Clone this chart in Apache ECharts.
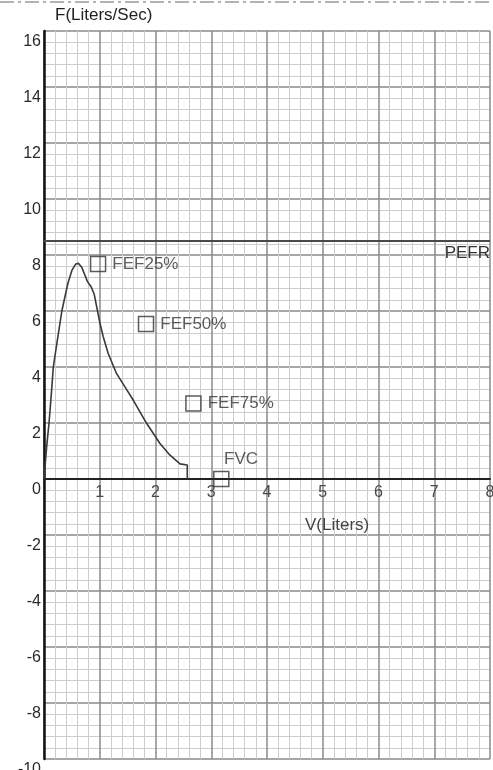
<!DOCTYPE html>
<html>
<head>
<meta charset="utf-8">
<script src="https://cdn.jsdelivr.net/npm/echarts@6/dist/echarts.min.js"></script>
<style>
  html, body { margin: 0; padding: 0; background: #fff; }
  #chart { width: 493px; height: 770px; }
</style>
</head>
<body>
<div id="chart"></div>
<script>
// Expiratory flow-volume curve (volume in litres, flow in litres per second)
const curveVolume = [0, 0.05, 0.09, 0.13, 0.167, 0.24, 0.32, 0.43, 0.5, 0.57, 0.62, 0.68, 0.74, 0.78, 0.85, 0.9, 0.96, 1.0, 1.06, 1.15, 1.3, 1.48, 1.6, 1.84, 2.08, 2.26, 2.44, 2.57, 2.57];
const curveFlow   = [0, 1.2, 2.0, 3.0, 4.0, 4.96, 6.0, 7.0, 7.45, 7.68, 7.7, 7.55, 7.25, 7.05, 6.85, 6.6, 6.0, 5.6, 5.1, 4.49, 3.77, 3.2, 2.82, 1.99, 1.27, 0.85, 0.54, 0.5, 0];

// Reference markers
const markerNames  = ['FEF25%', 'FEF50%', 'FEF75%', 'FVC'];
const markerVolume = [0.97, 1.83, 2.68, 3.18];
const markerFlow   = [7.68, 5.54, 2.70, 0];

// Peak expiratory flow reference line
const pefrValue = 8.5;

// Axis ticks
const xTicks = [1, 2, 3, 4, 5, 6, 7, 8];
const yTicks = [-10, -8, -6, -4, -2, 0, 2, 4, 6, 8, 10, 12, 14, 16];

const FONT = '"Liberation Sans", Arial, sans-serif';
const INK = '#2a2a2a';

const Y_MIN = -10, Y_MAX = 16;
const GRID = { left: 44, right: 3, top: 31, bottom: 11 };
const CHART_H = 770;
// Lift the volume axis from the bottom edge up to zero flow
const plotH = CHART_H - GRID.top - GRID.bottom;
const zeroOffset = -plotH * (0 - Y_MIN) / (Y_MAX - Y_MIN);

const curveData = curveVolume.map((v, i) => [v, curveFlow[i]]);
const markerData = markerNames.map((n, i) => {
  const item = { name: n, value: [markerVolume[i], markerFlow[i]] };
  if (n === 'FVC') {
    item.label = { position: [11, -20] };
  }
  return item;
});

const chart = echarts.init(document.getElementById('chart'), null, { renderer: 'canvas' });

chart.setOption({
  backgroundColor: '#ffffff',
  animation: false,
  grid: Object.assign({ containLabel: false, outerBoundsMode: 'none' }, GRID),
  xAxis: {
    type: 'value',
    min: 0,
    max: 8,
    interval: 1,
    offset: zeroOffset,
    axisLine: { onZero: false, lineStyle: { color: '#222', width: 2 } },
    axisTick: { show: false },
    axisLabel: {
      margin: 6,
      fontFamily: FONT,
      fontSize: 16,
      color: '#4a4a4a',
      formatter: v => (xTicks.indexOf(v) >= 0 ? String(v) : '')
    },
    splitLine: { show: true, lineStyle: { color: '#8a8a8a', width: 1.5 } },
    minorTick: { show: false, splitNumber: 5 },
    minorSplitLine: { show: true, lineStyle: { color: '#cdcdcd', width: 1 } }
  },
  yAxis: {
    type: 'value',
    min: Y_MIN,
    max: Y_MAX,
    interval: 2,
    axisLine: { onZero: false, lineStyle: { color: '#111', width: 2.5 } },
    axisTick: { show: false },
    axisLabel: {
      margin: 3,
      fontFamily: FONT,
      fontSize: 16,
      color: INK,
      verticalAlign: 'top',
      lineHeight: 22,
      formatter: v => (yTicks.indexOf(v) >= 0 ? String(v) : '')
    },
    splitLine: { show: true, lineStyle: { color: '#8a8a8a', width: 1.5 } },
    minorTick: { show: false, splitNumber: 5 },
    minorSplitLine: { show: true, lineStyle: { color: '#cdcdcd', width: 1 } }
  },
  series: [
    {
      type: 'line',
      data: curveData,
      showSymbol: false,
      smooth: false,
      lineStyle: { color: '#3a3a3a', width: 1.6 },
      z: 5,
      markLine: {
        silent: true,
        symbol: ['none', 'none'],
        lineStyle: { color: '#4a4a4a', width: 2, type: 'solid' },
        label: {
          show: true,
          position: 'insideEndBottom',
          formatter: 'PEFR',
          fontFamily: FONT,
          fontSize: 17,
          color: '#333',
          distance: [0, 4]
        },
        data: [{ yAxis: pefrValue }]
      }
    },
    {
      type: 'scatter',
      data: markerData,
      symbol: 'rect',
      symbolSize: 15,
      itemStyle: { color: 'rgba(255,255,255,0)', borderColor: '#333', borderWidth: 1.5 },
      label: {
        show: true,
        position: 'right',
        distance: 6,
        formatter: '{b}',
        fontFamily: FONT,
        fontSize: 17,
        color: '#333'
      },
      z: 6
    }
  ],
  graphic: [
    {
      type: 'line',
      shape: { x1: 0, y1: 2, x2: 493, y2: 2 },
      style: { stroke: '#9a9a9a', lineWidth: 1.5, lineDash: [14, 4, 3, 4] },
      silent: true
    },
    {
      type: 'text',
      left: 55,
      top: 7,
      style: { text: 'F(Liters/Sec)', font: '17px ' + FONT, fill: '#222' },
      silent: true
    },
    {
      type: 'text',
      left: 305,
      top: 517,
      z: 10,
      style: { text: 'V(Liters)', font: '17px ' + FONT, fill: '#444' },
      silent: true
    }
  ]
});
</script>
</body>
</html>
